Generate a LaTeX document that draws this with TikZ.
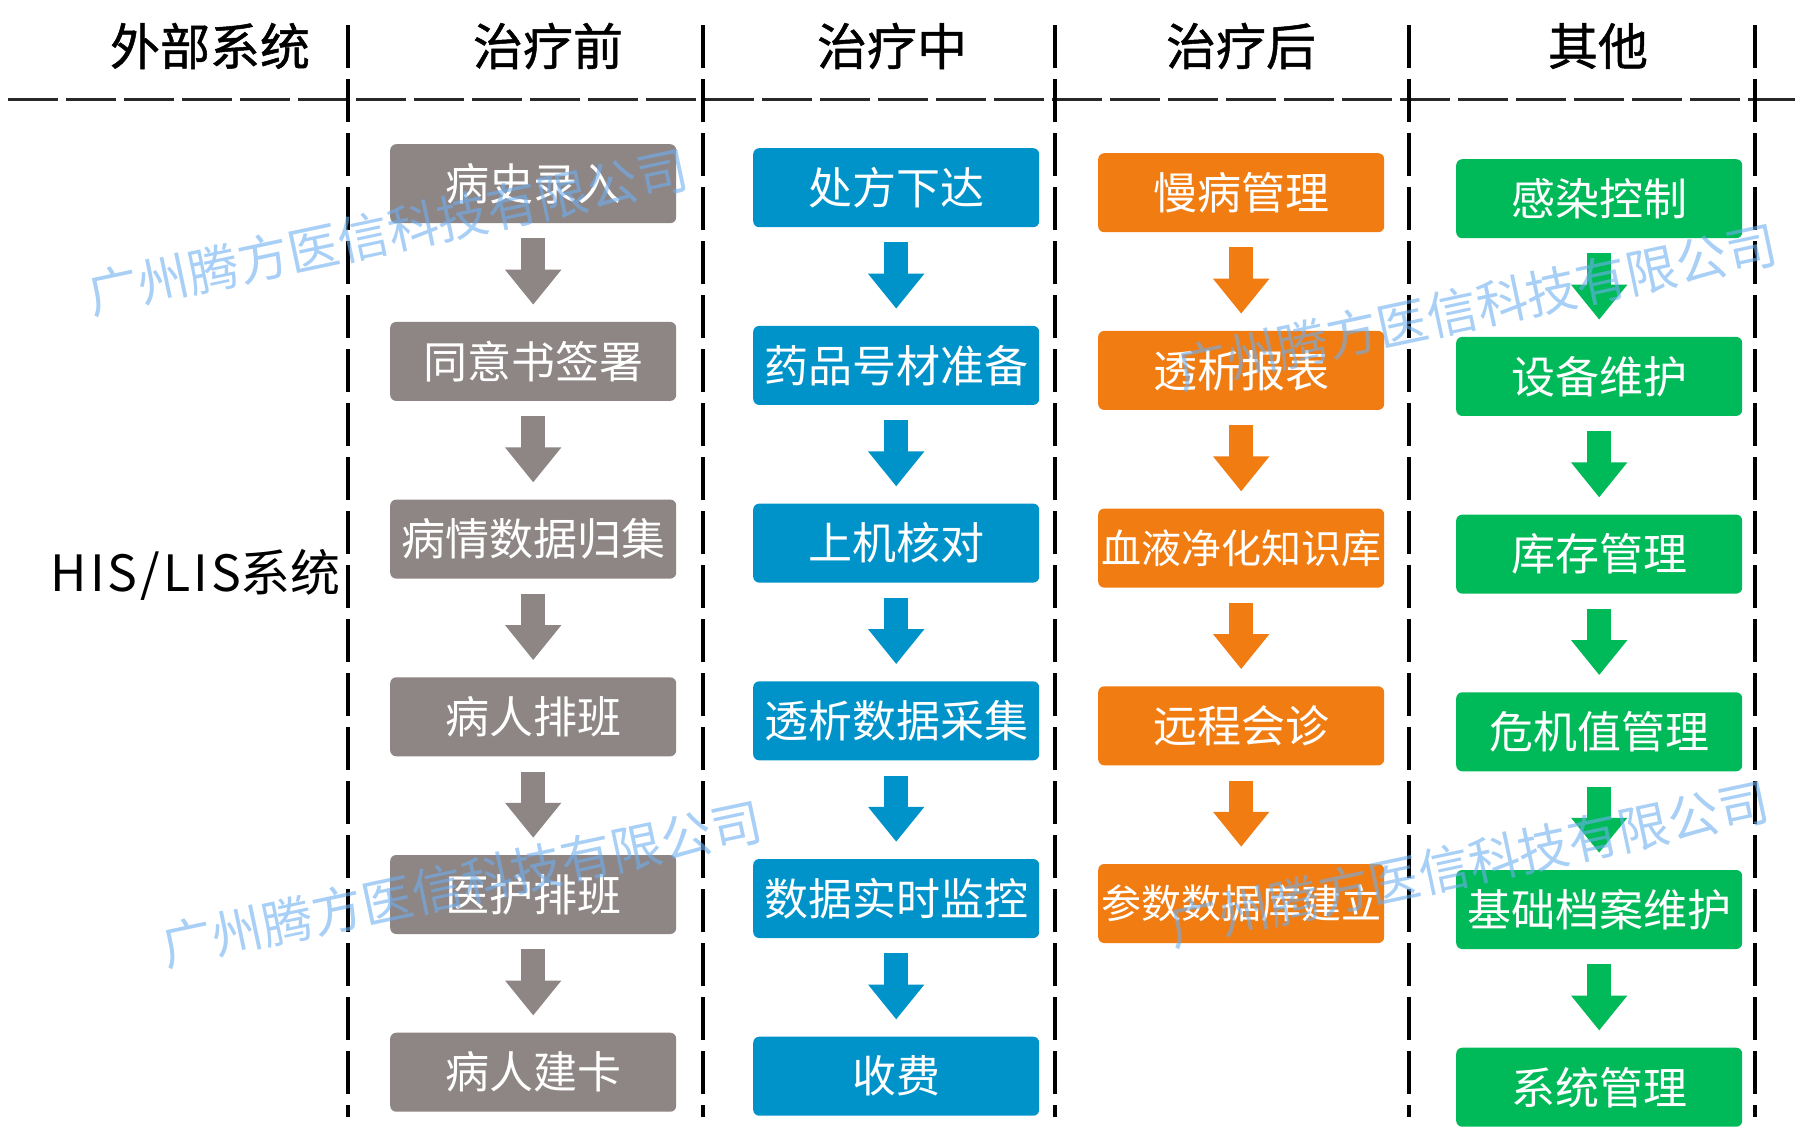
\documentclass[tikz,border=0pt]{standalone}
\usepackage{fontspec}
\setmainfont{Noto Sans CJK SC}
\usetikzlibrary{arrows.meta}
\definecolor{cgray}{RGB}{142,133,133}
\definecolor{cblue}{RGB}{0,147,201}
\definecolor{corange}{RGB}{240,124,18}
\definecolor{cgreen}{RGB}{0,185,88}
\definecolor{cwm}{RGB}{110,175,240}
\definecolor{cline}{RGB}{40,40,40}
\tikzset{
  box/.style={rounded corners=6pt, minimum width=286pt, minimum height=79pt,
    inner sep=0pt, text=white, anchor=north west, font=\fontsize{44}{48}\selectfont},
  gbox/.style={box, fill=cgray},
  bbox/.style={box, fill=cblue},
  obox/.style={box, fill=corange},
  grbox/.style={box, fill=cgreen},
  fat/.style={line width=24pt, -{Triangle[width=54pt,length=35pt]},
    shorten <=15pt, shorten >=17pt},
  head/.style={font=\fontsize{50}{54}\selectfont\addfontfeatures{FakeBold=1}, text=black, inner sep=0pt},
  vsep/.style={line width=3.5pt, black, dash pattern=on 43pt off 11pt},
  hsep/.style={line width=3pt, cline, dash pattern=on 50pt off 8pt},
  wm/.style={font=\fontsize{51}{55}\selectfont, text=cwm, text opacity=0.6,
    rotate=12, inner sep=0pt}
}
\begin{document}
\begin{tikzpicture}[x=1pt,y=-1pt]
\useasboundingbox (0,0) rectangle (1800,1136);
\fill[white] (0,0) rectangle (1800,1136);

% separators
\coordinate (h0) at (8,99);
\coordinate (h1) at (1795,99);
\draw[hsep] (h0) -- (h1);
\foreach \i/\x in {1/348,2/703,3/1055,4/1409,5/1755}{
  \coordinate (vt\i) at (\x,25);
  \coordinate (vb\i) at (\x,1117);
  \draw[vsep] (vt\i) -- (vb\i);
}

% headers
\node[head] (hd0) at (210,46) {外部系统};
\node[head] (hd1) at (548,46) {治疗前};
\node[head] (hd2) at (892,46) {治疗中};
\node[head] (hd3) at (1241,46) {治疗后};
\node[head] (hd4) at (1598,46) {其他};

\node[font=\fontsize{50}{54}\selectfont, inner sep=0pt, anchor=east] (his) at (341,575)
  {{\addfontfeatures{LetterSpace=6}HIS/LIS}系统};

% gray column
\node[gbox] (g1) at (390,144) {病史录入};
\node[gbox] (g2) at (390,321.7) {同意书签署};
\node[gbox] (g3) at (390,499.4) {病情数据归集};
\node[gbox] (g4) at (390,677.1) {病人排班};
\node[gbox] (g5) at (390,854.8) {医护排班};
\node[gbox] (g6) at (390,1032.5) {病人建卡};

% blue column
\node[bbox] (b1) at (753,148) {处方下达};
\node[bbox] (b2) at (753,325.7) {药品号材准备};
\node[bbox] (b3) at (753,503.4) {上机核对};
\node[bbox] (b4) at (753,681.1) {透析数据采集};
\node[bbox] (b5) at (753,858.8) {数据实时监控};
\node[bbox] (b6) at (753,1036.5) {收费};

% orange column
\node[obox] (o1) at (1098,153) {慢病管理};
\node[obox] (o2) at (1098,330.7) {透析报表};
\node[obox, font=\fontsize{40}{44}\selectfont] (o3) at (1098,508.4) {血液净化知识库};
\node[obox] (o4) at (1098,686.1) {远程会诊};
\node[obox, font=\fontsize{40}{44}\selectfont] (o5) at (1098,863.8) {参数数据库建立};

% green column
\node[grbox] (n1) at (1456,159) {感染控制};
\node[grbox] (n2) at (1456,336.7) {设备维护};
\node[grbox] (n3) at (1456,514.4) {库存管理};
\node[grbox] (n4) at (1456,692.1) {危机值管理};
\node[grbox] (n5) at (1456,869.8) {基础档案维护};
\node[grbox] (n6) at (1456,1047.5) {系统管理};

% arrows
\foreach \a/\b in {g1/g2,g2/g3,g3/g4,g4/g5,g5/g6}
  \draw[fat, cgray] (\a.south) -- (\b.north);
\foreach \a/\b in {b1/b2,b2/b3,b3/b4,b4/b5,b5/b6}
  \draw[fat, cblue] (\a.south) -- (\b.north);
\foreach \a/\b in {o1/o2,o2/o3,o3/o4,o4/o5}
  \draw[fat, corange] (\a.south) -- (\b.north);
\foreach \a/\b in {n1/n2,n2/n3,n3/n4,n4/n5,n5/n6}
  \draw[fat, cgreen] (\a.south) -- (\b.north);

% watermarks
\node[wm] (w1) at (388,232) {广州腾方医信科技有限公司};
\node[wm] (w2) at (462,884) {广州腾方医信科技有限公司};
\node[wm] (w3) at (1477,307) {广州腾方医信科技有限公司};
\node[wm] (w4) at (1469,864) {广州腾方医信科技有限公司};
\end{tikzpicture}
\end{document}
